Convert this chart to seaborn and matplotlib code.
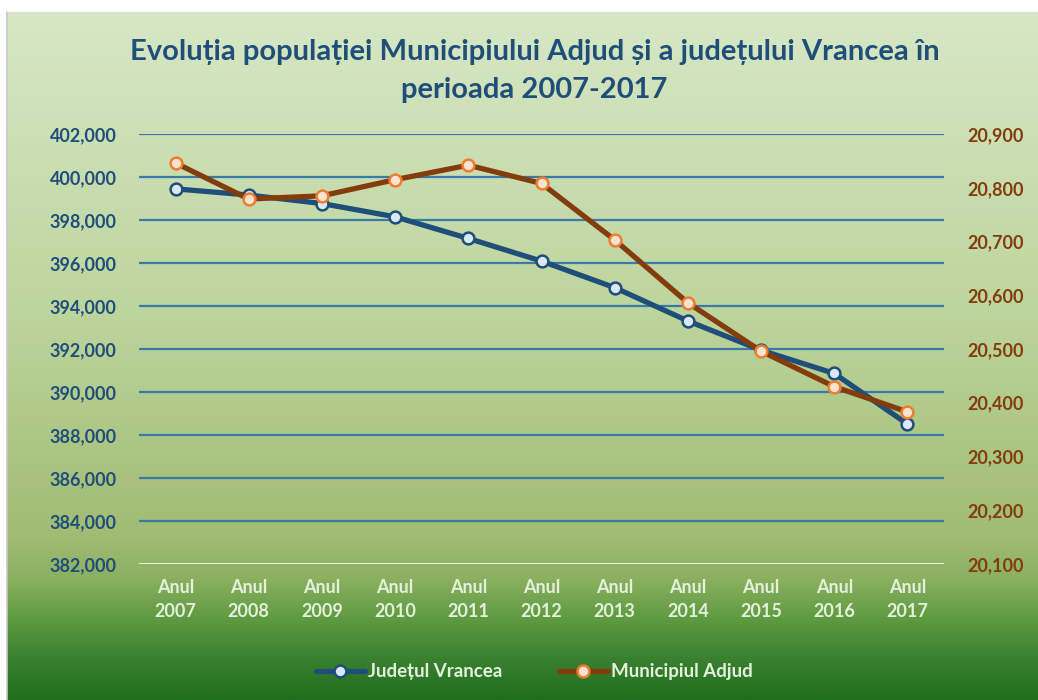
import numpy as np
import pandas as pd
import matplotlib
matplotlib.use("Agg")
import matplotlib.pyplot as plt
from matplotlib.colors import LinearSegmentedColormap
from matplotlib.ticker import FuncFormatter
import seaborn as sns

# ---- data ----
years = ["Anul\n2007", "Anul\n2008", "Anul\n2009", "Anul\n2010", "Anul\n2011", "Anul\n2012",
         "Anul\n2013", "Anul\n2014", "Anul\n2015", "Anul\n2016", "Anul\n2017"]
vrancea = [399448, 399160, 398766, 398148, 397142, 396088, 394854, 393304, 391944, 390863, 388510]
adjud = [20846, 20779, 20785, 20815, 20842, 20808, 20703, 20586, 20496, 20430, 20383]

left_ticks = list(range(382000, 402001, 2000))
right_ticks = list(range(20100, 20901, 100))

title = "Evoluția populației Municipiului Adjud și a județului Vrancea în\nperioada 2007-2017"

blue = "#1f4e79"
brown = "#843c0c"
label_light = "#e4f0dc"

sns.set_style("white")
plt.rcParams['font.family'] = ['Lato', 'DejaVu Sans']

fig = plt.figure(figsize=(10.38, 7.0), dpi=100)
fig.patch.set_facecolor("white")

# background gradient (chart area box)
bg = fig.add_axes([7 / 1038, 0, 1 - 7 / 1038, 688 / 700], zorder=-5)
cmap = LinearSegmentedColormap.from_list(
    "grad",
    [(0.0, "#d7e7c6"), (0.45, "#bcd49c"), (0.767, "#a0bb72"), (0.826, "#8ab060"),
     (0.884, "#5e9a40"), (0.942, "#3a8030"), (1.0, "#1f6f1f")])
bg.imshow(np.linspace(0, 1, 256).reshape(-1, 1), aspect="auto", cmap=cmap,
          extent=[0, 1, 0, 1])
bg.set_axis_off()
fig.add_artist(plt.Line2D([7 / 1038, 7 / 1038], [0, 688 / 700], color="#c8c8c8", lw=1.2))
fig.add_artist(plt.Line2D([7 / 1038, 1], [688 / 700, 688 / 700], color="#e0e0e0", lw=1.0))

ax = fig.add_axes([139 / 1038, 1 - 564 / 700, (944 - 139) / 1038, (564 - 134) / 700])
ax.patch.set_alpha(0)
ax2 = ax.twinx()
ax2.patch.set_alpha(0)

df = pd.DataFrame({"x": np.arange(len(years)), "Județul Vrancea": vrancea, "Municipiul Adjud": adjud})

sns.lineplot(data=df, x="x", y="Județul Vrancea", ax=ax, color=blue, lw=3.8,
             marker="o", markersize=8.5, markerfacecolor="#dae8f6", markeredgecolor=blue,
             markeredgewidth=1.8, label="Județul Vrancea", legend=False, zorder=3)
sns.lineplot(data=df, x="x", y="Municipiul Adjud", ax=ax2, color=brown, lw=3.8,
             marker="o", markersize=8.5, markerfacecolor="#fde3cf", markeredgecolor="#ed7d31",
             markeredgewidth=1.8, label="Municipiul Adjud", legend=False, zorder=3)

ax.set_xlim(-0.5, len(years) - 0.5)
ax.set_ylim(left_ticks[0], left_ticks[-1])
ax2.set_ylim(right_ticks[0], right_ticks[-1])
ax.set_yticks(left_ticks)
ax2.set_yticks(right_ticks)
ax.set_xticks(range(len(years)))
ax.set_xticklabels(years)

fmt = FuncFormatter(lambda v, p: f"{int(v):,}")
ax.yaxis.set_major_formatter(fmt)
ax2.yaxis.set_major_formatter(fmt)

# gridlines follow left axis
for t in left_ticks[1:]:
    ax.axhline(t, color="#3a7aa8", lw=1.6, zorder=1)
ax.axhline(left_ticks[0], color="#e6eedc", lw=2.2, zorder=1)

for a in (ax, ax2):
    for s in a.spines.values():
        s.set_visible(False)
    a.set_xlabel("")
    a.set_ylabel("")
    a.tick_params(length=0)

ax.tick_params(axis="y", labelsize=13, labelcolor=blue, pad=16)
ax2.tick_params(axis="y", labelsize=13, labelcolor=brown, pad=17)
ax.tick_params(axis="x", labelsize=13, labelcolor=label_light, pad=11)
for lab in ax.get_yticklabels() + ax2.get_yticklabels() + ax.get_xticklabels():
    lab.set_fontweight("bold")
for lab in ax.get_xticklabels():
    lab.set_linespacing(1.5)

fig.text(0.515, 1 - 71 / 700, title, ha="center", va="center", fontsize=21,
         fontweight="bold", color=blue, linespacing=1.6)

h1, l1 = ax.get_legend_handles_labels()
h2, l2 = ax2.get_legend_handles_labels()
leg = fig.legend(h1 + h2, l1 + l2, loc="center", bbox_to_anchor=(0.515, 1 - 672 / 700),
                 ncol=2, frameon=False, handlelength=2.6, handletextpad=0.2,
                 columnspacing=3.0, prop={"family": "Lato", "weight": "bold", "size": 13.5})
for txt in leg.get_texts():
    txt.set_color(label_light)

fig.savefig("out.png", dpi=100)
